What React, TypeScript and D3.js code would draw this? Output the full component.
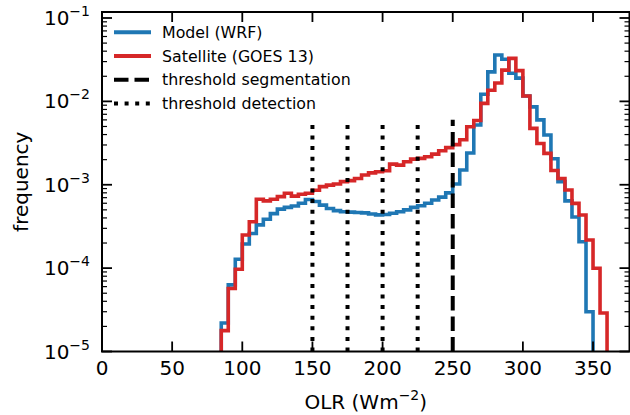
import React from 'react';
import * as d3 from 'd3';

// Histogram bins: left edges start at 85 W m^-2, width 5
const binStart = 85;
const binWidth = 5;

// Model (WRF) frequencies, bins 85..345
const modelFreq = [
  2.2e-5, 6.3e-5, 1.28e-4, 1.95e-4, 2.6e-4, 3.3e-4, 3.85e-4, 4.5e-4, 5.1e-4, 5.35e-4,
  5.55e-4, 6.0e-4, 6.65e-4, 6.3e-4, 5.7e-4, 5.2e-4, 4.9e-4, 4.75e-4, 4.7e-4, 4.65e-4,
  4.6e-4, 4.45e-4, 4.35e-4, 4.4e-4, 4.55e-4, 4.75e-4, 5.0e-4, 5.35e-4, 5.6e-4, 6.0e-4,
  6.55e-4, 7.1e-4, 8.0e-4, 1.02e-3, 1.5e-3, 2.4e-3, 5.2e-3, 1.22e-2, 2.26e-2, 3.6e-2,
  3.2e-2, 2.17e-2, 1.9e-2, 1.16e-2, 8.6e-3, 6.0e-3, 3.95e-3, 2.05e-3, 1.09e-3, 6.4e-4,
  4.1e-4, 2.07e-4, 3.0e-5,
];

// Satellite (GOES 13) frequencies, bins 85..355
const satelliteFreq = [
  1.78e-5, 5.7e-5, 9.7e-5, 2.5e-4, 3.6e-4, 6.7e-4, 6.4e-4, 6.7e-4, 7.2e-4, 7.9e-4,
  7.3e-4, 7.7e-4, 7.9e-4, 8.6e-4, 9.5e-4, 9.9e-4, 1.02e-3, 1.09e-3, 1.12e-3, 1.19e-3,
  1.31e-3, 1.39e-3, 1.43e-3, 1.47e-3, 1.77e-3, 1.72e-3, 1.89e-3, 2.03e-3, 2.07e-3, 2.17e-3,
  2.33e-3, 2.56e-3, 2.79e-3, 3.03e-3, 3.47e-3, 4.96e-3, 5.89e-3, 9.46e-3, 1.36e-2, 1.66e-2,
  2.37e-2, 3.28e-2, 2.34e-2, 1.16e-2, 4.74e-3, 3.13e-3, 2.38e-3, 1.48e-3, 1.19e-3, 8.65e-4,
  5.98e-4, 4.34e-4, 2.17e-4, 9.95e-5, 2.9e-5,
];

const xTicks = [0, 50, 100, 150, 200, 250, 300, 350];
const yTickExps = [-5, -4, -3, -2, -1];
const detectionThresholds = [150, 175, 200, 225];
const segmentationThreshold = 250;
const thresholdTop = 6e-3;

const legendItems = [
  { label: 'Model (WRF)', color: '#1f77b4', dash: '' },
  { label: 'Satellite (GOES 13)', color: '#d62728', dash: '' },
  { label: 'threshold segmentation', color: '#000', dash: '14.5,6' },
  { label: 'threshold detection', color: '#000', dash: '4,6.6' },
];

const FONT = 'DejaVu Sans';

export default function App() {
  const W = 630, H = 415;
  const plot = { left: 102, right: 629.5, top: 12, bottom: 351.5 };
  const x = d3.scaleLinear().domain([0, 376]).range([plot.left, plot.right]);
  const yTop = Math.pow(10, -1 + 6 / 83.375);
  const y = d3.scaleLog().domain([1e-5, yTop]).range([plot.bottom, plot.top]);

  const stepPath = (values: number[]) => {
    const bottomY = plot.bottom + 20;
    const pts: [number, number][] = [[x(binStart), bottomY]];
    values.forEach((v, i) => {
      const x0 = x(binStart + i * binWidth);
      const x1 = x(binStart + (i + 1) * binWidth);
      pts.push([x0, y(v)]);
      pts.push([x1, y(v)]);
    });
    pts.push([x(binStart + values.length * binWidth), bottomY]);
    return d3.line()(pts) || '';
  };

  const minorY: number[] = [];
  for (let e = -5; e <= -2; e++) {
    for (let m = 2; m <= 9; m++) minorY.push(m * Math.pow(10, e));
  }

  const majorLen = 10, minorLen = 5;

  return (
    <svg width={W} height={H} style={{ position: 'absolute', left: 0, top: 0, background: '#fff' }}
      fontFamily={FONT}>
      <defs>
        <clipPath id="plotclip">
          <rect x={plot.left} y={plot.top} width={plot.right - plot.left} height={plot.bottom - plot.top} />
        </clipPath>
      </defs>
      <rect x={0} y={0} width={W} height={H} fill="#fff" />

      <g clipPath="url(#plotclip)">
        <path d={stepPath(modelFreq)} fill="none" stroke="#1f77b4" strokeWidth={3.6} />
        <path d={stepPath(satelliteFreq)} fill="none" stroke="#d62728" strokeWidth={3.6} />
        {detectionThresholds.map((t) => (
          <line key={t} x1={x(t)} x2={x(t)} y1={plot.bottom} y2={y(thresholdTop)}
            stroke="#000" strokeWidth={4} strokeDasharray="4,6.6" />
        ))}
        <line x1={x(segmentationThreshold)} x2={x(segmentationThreshold)} y1={plot.bottom}
          y2={y(thresholdTop)} stroke="#000" strokeWidth={4} strokeDasharray="14.5,6" />
      </g>

      {/* x ticks bottom & top */}
      {xTicks.map((t) => (
        <g key={t}>
          <line x1={x(t)} x2={x(t)} y1={plot.bottom} y2={plot.bottom - majorLen} stroke="#000" strokeWidth={1.8} />
          <line x1={x(t)} x2={x(t)} y1={plot.top} y2={plot.top + majorLen} stroke="#000" strokeWidth={1.8} />
          <text x={x(t)} y={375} textAnchor="middle" fontSize={20} fill="#000">{t}</text>
        </g>
      ))}

      {/* y major ticks */}
      {yTickExps.map((e) => {
        const yy = y(Math.pow(10, e));
        return (
          <g key={e}>
            <line x1={plot.left} x2={plot.left + majorLen} y1={yy} y2={yy} stroke="#000" strokeWidth={1.8} />
            <line x1={plot.right} x2={plot.right - majorLen} y1={yy} y2={yy} stroke="#000" strokeWidth={1.8} />
            <text x={90} y={yy + 7} textAnchor="end" fontSize={20} fill="#000">
              <tspan>10</tspan>
              <tspan dy={-9} fontSize={14}>{'\u2212' + Math.abs(e)}</tspan>
            </text>
          </g>
        );
      })}
      {minorY.map((v) => {
        const yy = y(v);
        return (
          <g key={v}>
            <line x1={plot.left} x2={plot.left + minorLen} y1={yy} y2={yy} stroke="#000" strokeWidth={1.2} />
            <line x1={plot.right} x2={plot.right - minorLen} y1={yy} y2={yy} stroke="#000" strokeWidth={1.2} />
          </g>
        );
      })}

      {/* spines */}
      <rect x={plot.left} y={plot.top} width={plot.right - plot.left} height={plot.bottom - plot.top}
        fill="none" stroke="#000" strokeWidth={2} />

      {/* axis labels */}
      <text x={(plot.left + plot.right) / 2} y={409} textAnchor="middle" fontSize={20} fill="#000">
        <tspan>OLR (Wm</tspan>
        <tspan dy={-9} fontSize={14}>{'\u22122'}</tspan>
        <tspan dy={9}>)</tspan>
      </text>
      <text transform={`translate(28, ${(plot.top + plot.bottom) / 2}) rotate(-90)`} textAnchor="middle"
        fontSize={20} fill="#000">frequency</text>

      {/* legend */}
      {legendItems.map((it, i) => {
        const ly = 32.3 + i * 23.7;
        return (
          <g key={it.label}>
            <line x1={114} x2={151} y1={ly} y2={ly} stroke={it.color} strokeWidth={4}
              strokeDasharray={it.dash || undefined} />
            <text x={162} y={ly + 5.7} fontSize={15.8} fill="#000">{it.label}</text>
          </g>
        );
      })}
    </svg>
  );
}
